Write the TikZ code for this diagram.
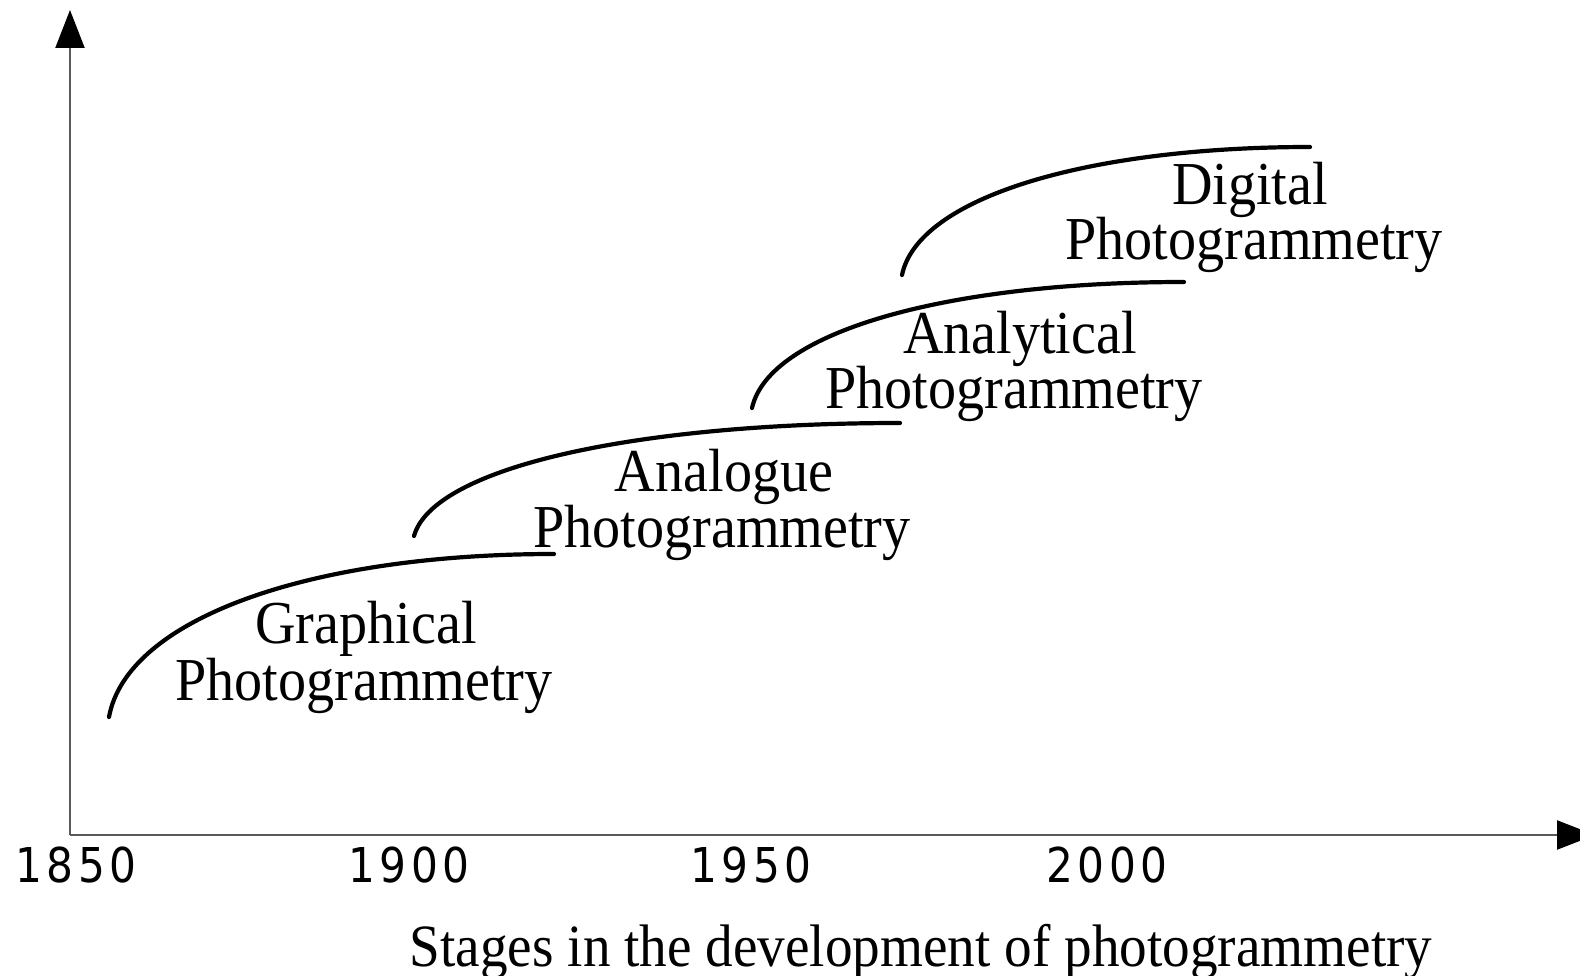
\documentclass[tikz,border=0pt]{standalone}
\usepackage{fontspec}
\setmainfont{Liberation Serif}[FakeStretch=0.92]
\newfontfamily\yearfont{DejaVu Sans}[FakeStretch=0.88,LetterSpace=9]
\usetikzlibrary{arrows.meta}
\begin{document}
\begin{tikzpicture}[x=1pt,y=-1pt,
  axis/.style={draw=black!65,line width=2.2pt,
    -{Triangle[width=29pt,length=38pt,color=black]}},
  stage/.style={line width=4.2pt,line cap=round},
  lbl/.style={anchor=base,inner sep=0pt,font=\fontsize{61}{61}\selectfont},
  year/.style={anchor=base,inner sep=0pt,font=\yearfont\fontsize{48}{48}\selectfont},
  caption/.style={anchor=base,inner sep=0pt,font=\fontsize{60}{60}\selectfont}]
  \useasboundingbox (0,0) rectangle (1580,976);

  % axes
  \coordinate (O) at (70,835);
  \coordinate (ytip) at (70,10);
  \coordinate (xtip) at (1595,835);
  \draw[axis] (O) -- (ytip);
  \draw[axis] (O) -- (xtip);

  % year ticks
  \node[year] (y1850) at (76,882) {1850};
  \node[year] (y1900) at (409,882) {1900};
  \node[year] (y1950) at (751,882) {1950};
  \node[year] (y2000) at (1107,882) {2000};

  % stage curves
  \coordinate (g0) at (109,717);  \coordinate (g1) at (554,554);
  \coordinate (a0) at (414,536);  \coordinate (a1) at (900,423);
  \coordinate (n0) at (752,408);  \coordinate (n1) at (1184,282);
  \coordinate (d0) at (902,275);  \coordinate (d1) at (1310,147);
  \draw[stage] (g0) .. controls +(18,-98) and +(-245,0) .. (g1);
  \draw[stage] (a0) .. controls +(19,-68) and +(-267,0) .. (a1);
  \draw[stage] (n0) .. controls +(17,-76) and +(-238,0) .. (n1);
  \draw[stage] (d0) .. controls +(16,-77) and +(-224,0) .. (d1);

  % stage labels
  \node[lbl] (gA) at (366,643) {Graphical};
  \node[lbl] (gB) at (364,700) {Photogrammetry};
  \node[lbl] (aA) at (724,491) {Analogue};
  \node[lbl] (aB) at (722,547) {Photogrammetry};
  \node[lbl] (nA) at (1020,353) {Analytical};
  \node[lbl] (nB) at (1014,408) {Photogrammetry};
  \node[lbl] (dA) at (1250,205) {Digital};
  \node[lbl] (dB) at (1254,260) {Photogrammetry};

  % caption
  \node[caption] (cap) at (921,966) {Stages in the development of photogrammetry};
\end{tikzpicture}
\end{document}
